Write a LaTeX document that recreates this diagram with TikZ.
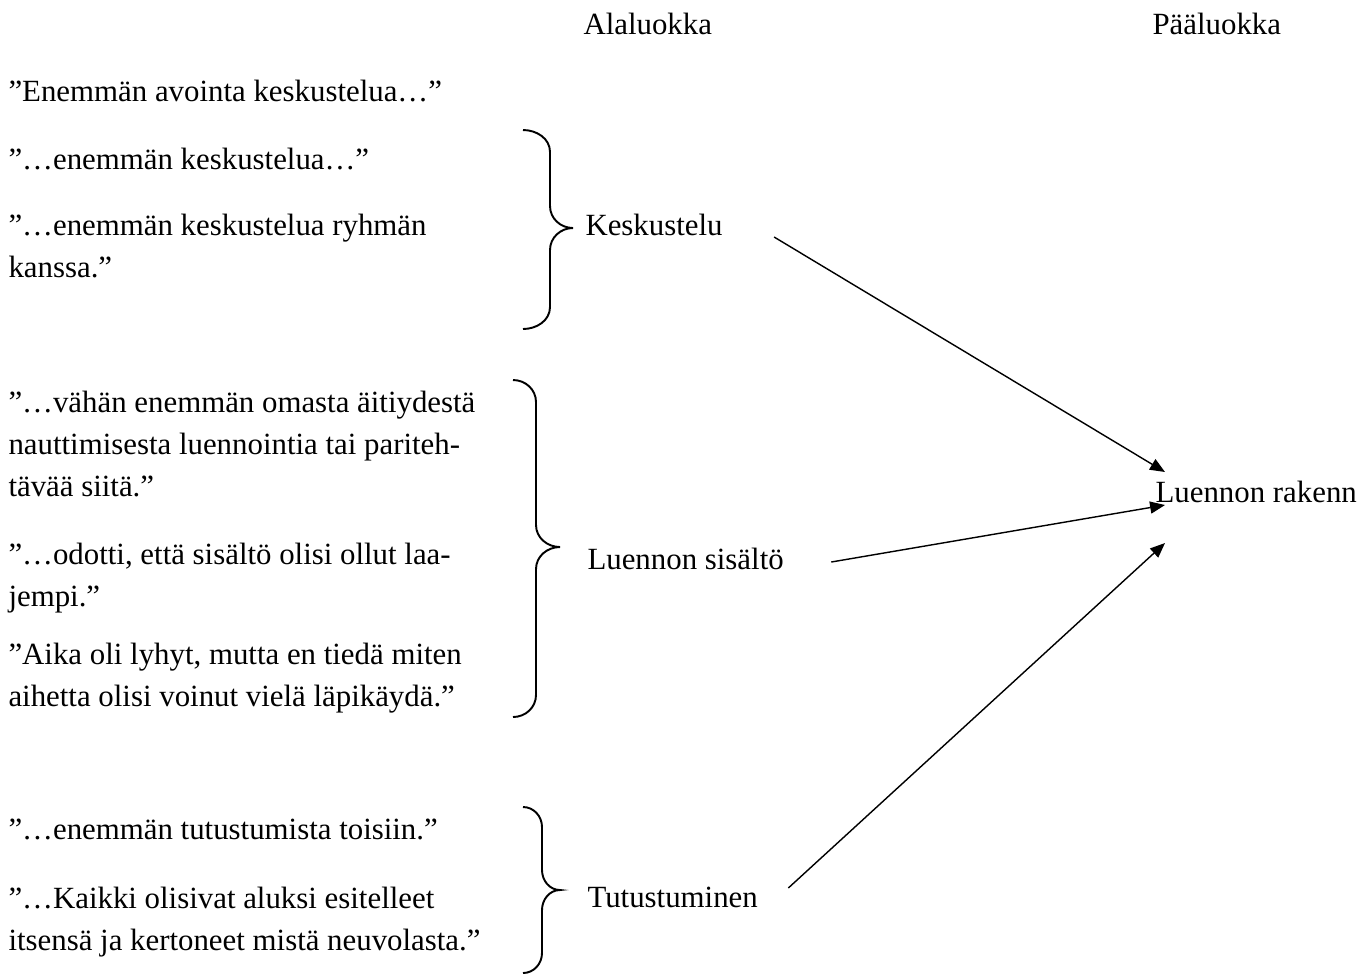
\documentclass[tikz,border=0pt]{standalone}
\usepackage{fontspec}
\setmainfont{Liberation Serif}
\usetikzlibrary{arrows.meta,calc}

\begin{document}
\begin{tikzpicture}[
		x=0.389pt, y=-0.389pt,
		% Node styles
		header/.style={anchor=base west, inner sep=0pt, font=\fontsize{12}{16}\selectfont},
		quote/.style={anchor=base west, inner sep=0pt, align=left, font=\fontsize{12}{16.15}\selectfont},
		subclass/.style={anchor=base west, inner sep=0pt, font=\fontsize{12}{16}\selectfont},
		connector/.style={-{Triangle[length=5.8pt, width=4.7pt]}, draw=black, line width=0.55pt},
		brace_line/.style={draw=black, line width=0.75pt}
	]

	\useasboundingbox (0,0) rectangle (1364,975);

	% Column titles
	\node[header] (ala) at (583,34) {Alaluokka};
	\node[header] (paa) at (1152,34) {Pääluokka};

	% Quotes (a multi-line node sits on its last baseline)
	\node[quote] (q1) at (8,101) {”Enemmän avointa keskustelua…”};
	\node[quote] (q2) at (8,169) {”…enemmän keskustelua…”};
	\node[quote] (q3) at (8,277) {”…enemmän keskustelua ryhmän\\kanssa.”};

	\node[quote] (q4) at (8,496) {”…vähän enemmän omasta äitiydestä\\nauttimisesta luennointia tai pariteh-\\tävää siitä.”};
	\node[quote] (q5) at (8,606) {”…odotti, että sisältö olisi ollut laa-\\jempi.”};
	\node[quote] (q6) at (8,706) {”Aika oli lyhyt, mutta en tiedä miten\\aihetta olisi voinut vielä läpikäydä.”};

	\node[quote] (q7) at (8,839) {”…enemmän tutustumista toisiin.”};
	\node[quote] (q8) at (8,950) {”…Kaikki olisivat aluksi esitelleet\\itsensä ja kertoneet mistä neuvolasta.”};

	% Subclasses and main class
	\node[subclass] (kesk) at (585,235) {Keskustelu};
	\node[subclass] (sis) at (587,569) {Luennon sisältö};
	\node[subclass] (tut) at (587,907) {Tutustuminen};
	\node[subclass] (rak) at (1155,502) {Luennon rakenn};

	% Braces
	\draw[brace_line] (523,130) to[out=0, in=90] (550,152) -- (550,206)
		to[out=-90, in=180] (573,228) to[out=180, in=90] (550,250) -- (550,307)
		to[out=-90, in=0] (523,329);
	\draw[brace_line] (513,380) to[out=0, in=90] (536,402) -- (536,525)
		to[out=-90, in=180] (560,547) to[out=180, in=90] (536,569) -- (536,695)
		to[out=-90, in=0] (513,717);
	\draw[brace_line] (523,807) to[out=0, in=90] (542,827) -- (542,870)
		to[out=-90, in=180] (560,890) to[out=180, in=90] (542,910) -- (542,953)
		to[out=-90, in=0] (523,973);

	% Connections
	\draw[connector] ($(kesk.base east)+(51,2)$) -- ($(rak.base west)+(10,-30)$);
	\draw[connector] ($(sis.base east)+(47,-7)$) -- ($(rak.base west)+(10,3)$);
	\draw[connector] ($(tut.base east)+(30,-19)$) -- ($(rak.base west)+(10,41)$);

\end{tikzpicture}
\end{document}
